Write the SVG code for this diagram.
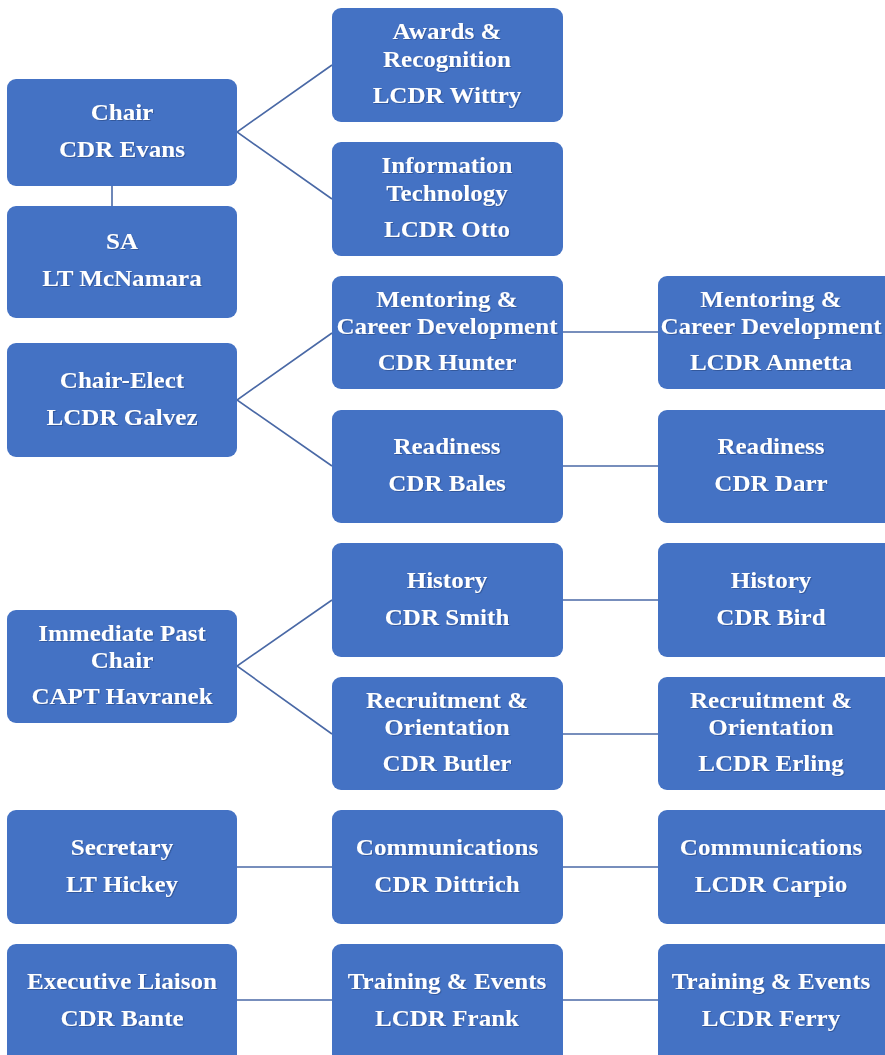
<svg xmlns="http://www.w3.org/2000/svg" width="885" height="1055" viewBox="0 0 885 1055">
<defs>
<filter id="sh" x="-10%" y="-30%" width="120%" height="160%"><feDropShadow dx="1" dy="1" stdDeviation="0.6" flood-color="#1F3360" flood-opacity="0.4"/></filter>
</defs>
<style>
.box{fill:#4472C4;}
.t{font-family:"Liberation Serif","Times New Roman",serif;font-weight:bold;font-size:23px;fill:#FFFFFF;text-anchor:middle;filter:url(#sh);}
.c{stroke:#4A69A6;stroke-width:1.6;fill:none;}
</style>
<rect width="885" height="1055" fill="#FFFFFF"/>
<g id="connectors">
<polyline class="c" points="332,65 237,132 332,199"/>
<line class="c" x1="112" y1="186" x2="112" y2="206"/>
<polyline class="c" points="332,333 237,400 332,466"/>
<line class="c" x1="563" y1="332" x2="658" y2="332"/>
<line class="c" x1="563" y1="466" x2="658" y2="466"/>
<polyline class="c" points="332,600 237,666 332,734"/>
<line class="c" x1="563" y1="600" x2="658" y2="600"/>
<line class="c" x1="563" y1="734" x2="658" y2="734"/>
<line class="c" x1="237" y1="867" x2="658" y2="867"/>
<line class="c" x1="237" y1="1000" x2="658" y2="1000"/>
</g>
<g id="chair"><rect class="box" x="7" y="79" width="230" height="107" rx="9"/><g transform="translate(122,0) scale(1.09,1)"><text class="t" x="0" y="120">Chair</text><text class="t" x="0" y="157">CDR Evans</text></g></g>
<g id="sa"><rect class="box" x="7" y="206" width="230" height="112" rx="9"/><g transform="translate(122,0) scale(1.09,1)"><text class="t" x="0" y="249">SA</text><text class="t" x="0" y="286">LT McNamara</text></g></g>
<g id="awards"><rect class="box" x="332" y="8" width="231" height="114" rx="9"/><g transform="translate(447,0) scale(1.09,1)"><text class="t" x="0" y="39">Awards &amp;</text><text class="t" x="0" y="67">Recognition</text><text class="t" x="0" y="103">LCDR Wittry</text></g></g>
<g id="it"><rect class="box" x="332" y="142" width="231" height="114" rx="9"/><g transform="translate(447,0) scale(1.09,1)"><text class="t" x="0" y="173">Information</text><text class="t" x="0" y="201">Technology</text><text class="t" x="0" y="237">LCDR Otto</text></g></g>
<g id="chair-elect"><rect class="box" x="7" y="343" width="230" height="114" rx="9"/><g transform="translate(122,0) scale(1.09,1)"><text class="t" x="0" y="388">Chair-Elect</text><text class="t" x="0" y="425">LCDR Galvez</text></g></g>
<g id="mentoring"><rect class="box" x="332" y="276" width="231" height="113" rx="9"/><g transform="translate(447,0) scale(1.09,1)"><text class="t" x="0" y="307">Mentoring &amp;</text><text class="t" x="0" y="334">Career Development</text><text class="t" x="0" y="370">CDR Hunter</text></g></g>
<g id="mentoring2"><rect class="box" x="658" y="276" width="235" height="113" rx="9"/><g transform="translate(771,0) scale(1.09,1)"><text class="t" x="0" y="307">Mentoring &amp;</text><text class="t" x="0" y="334">Career Development</text><text class="t" x="0" y="370">LCDR Annetta</text></g></g>
<g id="readiness"><rect class="box" x="332" y="410" width="231" height="113" rx="9"/><g transform="translate(447,0) scale(1.09,1)"><text class="t" x="0" y="454">Readiness</text><text class="t" x="0" y="491">CDR Bales</text></g></g>
<g id="readiness2"><rect class="box" x="658" y="410" width="235" height="113" rx="9"/><g transform="translate(771,0) scale(1.09,1)"><text class="t" x="0" y="454">Readiness</text><text class="t" x="0" y="491">CDR Darr</text></g></g>
<g id="past-chair"><rect class="box" x="7" y="610" width="230" height="113" rx="9"/><g transform="translate(122,0) scale(1.09,1)"><text class="t" x="0" y="641">Immediate Past</text><text class="t" x="0" y="668">Chair</text><text class="t" x="0" y="704">CAPT Havranek</text></g></g>
<g id="history"><rect class="box" x="332" y="543" width="231" height="114" rx="9"/><g transform="translate(447,0) scale(1.09,1)"><text class="t" x="0" y="588">History</text><text class="t" x="0" y="625">CDR Smith</text></g></g>
<g id="history2"><rect class="box" x="658" y="543" width="235" height="114" rx="9"/><g transform="translate(771,0) scale(1.09,1)"><text class="t" x="0" y="588">History</text><text class="t" x="0" y="625">CDR Bird</text></g></g>
<g id="recruitment"><rect class="box" x="332" y="677" width="231" height="113" rx="9"/><g transform="translate(447,0) scale(1.09,1)"><text class="t" x="0" y="708">Recruitment &amp;</text><text class="t" x="0" y="735">Orientation</text><text class="t" x="0" y="771">CDR Butler</text></g></g>
<g id="recruitment2"><rect class="box" x="658" y="677" width="235" height="113" rx="9"/><g transform="translate(771,0) scale(1.09,1)"><text class="t" x="0" y="708">Recruitment &amp;</text><text class="t" x="0" y="735">Orientation</text><text class="t" x="0" y="771">LCDR Erling</text></g></g>
<g id="secretary"><rect class="box" x="7" y="810" width="230" height="114" rx="9"/><g transform="translate(122,0) scale(1.09,1)"><text class="t" x="0" y="855">Secretary</text><text class="t" x="0" y="892">LT Hickey</text></g></g>
<g id="communications"><rect class="box" x="332" y="810" width="231" height="114" rx="9"/><g transform="translate(447,0) scale(1.09,1)"><text class="t" x="0" y="855">Communications</text><text class="t" x="0" y="892">CDR Dittrich</text></g></g>
<g id="communications2"><rect class="box" x="658" y="810" width="235" height="114" rx="9"/><g transform="translate(771,0) scale(1.09,1)"><text class="t" x="0" y="855">Communications</text><text class="t" x="0" y="892">LCDR Carpio</text></g></g>
<g id="liaison"><rect class="box" x="7" y="944" width="230" height="120" rx="9"/><g transform="translate(122,0) scale(1.09,1)"><text class="t" x="0" y="989">Executive Liaison</text><text class="t" x="0" y="1026">CDR Bante</text></g></g>
<g id="training"><rect class="box" x="332" y="944" width="231" height="120" rx="9"/><g transform="translate(447,0) scale(1.09,1)"><text class="t" x="0" y="989">Training &amp; Events</text><text class="t" x="0" y="1026">LCDR Frank</text></g></g>
<g id="training2"><rect class="box" x="658" y="944" width="235" height="120" rx="9"/><g transform="translate(771,0) scale(1.09,1)"><text class="t" x="0" y="989">Training &amp; Events</text><text class="t" x="0" y="1026">LCDR Ferry</text></g></g>
</svg>
